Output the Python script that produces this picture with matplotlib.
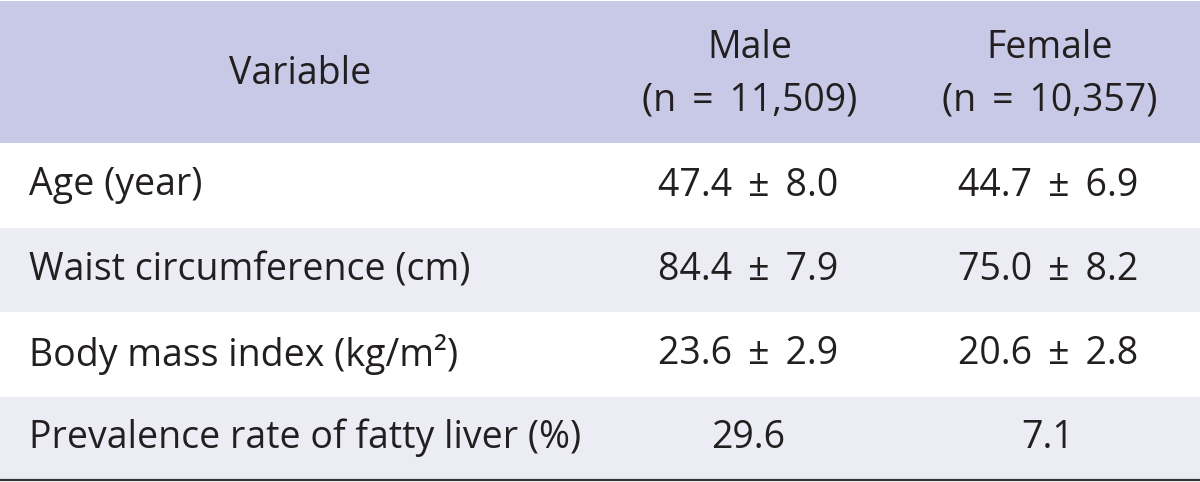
import matplotlib.pyplot as plt
from matplotlib.patches import Rectangle

plt.rcParams['font.family'] = ['Open Sans', 'DejaVu Sans']

# table content
header = ['Variable', 'Male\n(n \u2009=\u2009 11,509)', 'Female\n(n \u2009=\u2009 10,357)']
variables = ['Age (year)', 'Waist circumference (cm)',
             'Body mass index (kg/m²)', 'Prevalence rate of fatty liver (%)']
male = ['47.4 \u2009±\u2009 8.0', '84.4 \u2009±\u2009 7.9', '23.6 \u2009±\u2009 2.9', '29.6']
female = ['44.7 \u2009±\u2009 6.9', '75.0 \u2009±\u2009 8.2', '20.6 \u2009±\u2009 2.8', '7.1']

W, H = 1200, 482
fig = plt.figure(figsize=(W / 100, H / 100), dpi=100)
ax = fig.add_axes([0, 0, 1, 1])
ax.set_xlim(0, W)
ax.set_ylim(H, 0)
ax.axis('off')

head_col = '#c8c9e6'
band_col = '#ececf5'
txt_col = '#231f20'
fs = 27

# header band
head_top, head_bot = 1, 143
ax.add_patch(Rectangle((0, head_top), W, head_bot - head_top, color=head_col, lw=0))
col_x = [300, 750, 1050]
for x, lab in zip(col_x, header):
    ax.text(x, (head_top + head_bot) / 2 + 2, lab, ha='center', va='center',
            fontsize=fs, color=txt_col, linespacing=1.5)

# body rows
row_edges = [143, 228, 312, 397, 479]
for i, (v, m, f) in enumerate(zip(variables, male, female)):
    y0, y1 = row_edges[i], row_edges[i + 1]
    if i % 2 == 1:
        ax.add_patch(Rectangle((0, y0), W, y1 - y0, color=band_col, lw=0))
    yc = (y0 + y1) / 2
    ax.text(29, yc, v, ha='left', va='center', fontsize=fs, color=txt_col)
    ax.text(748, yc, m, ha='center', va='center', fontsize=fs, color=txt_col)
    ax.text(1048, yc, f, ha='center', va='center', fontsize=fs, color=txt_col)

ax.plot([0, W], [480, 480], color='#333333', lw=1.6, solid_capstyle='butt')

fig.savefig('out.png', dpi=100)
